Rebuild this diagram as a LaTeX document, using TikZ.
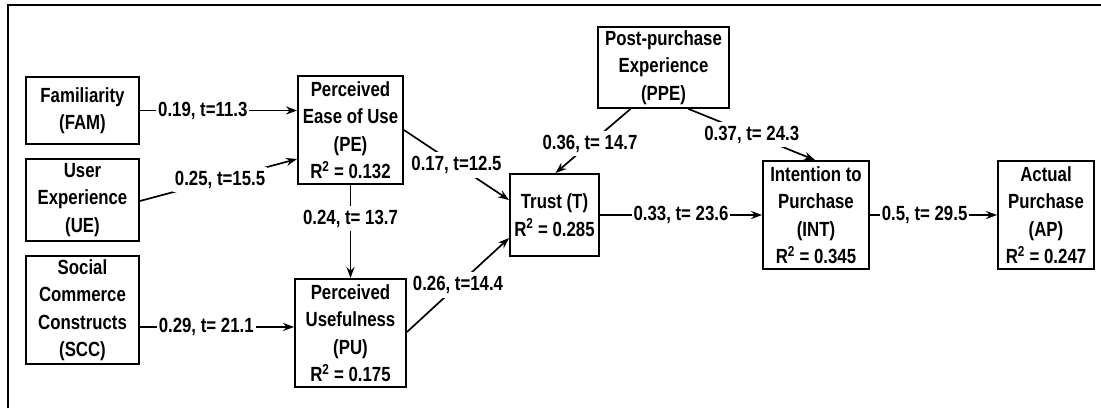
\documentclass[tikz,border=0pt]{standalone}
\usepackage{fontspec}
\setmainfont{Liberation Sans}[FakeStretch=0.82]
\usetikzlibrary{arrows.meta,calc}
\begin{document}
\begin{tikzpicture}[x=1pt,y=-1pt,
  box/.style={draw, line width=1.9pt, inner sep=0pt, align=center,
    font=\fontsize{20.5}{27.5}\selectfont\bfseries},
  lbl/.style={fill=white, inner xsep=2pt, inner ysep=4pt,
    font=\fontsize{20.5}{24}\selectfont\bfseries},
  arr/.style={line width=1.7pt, -{Stealth[length=11pt,width=8pt]}}]
\useasboundingbox (0,0) rectangle (1101,408);
\draw[line width=2.5pt] (8,408) -- (8,5) -- (1101,5);

\node[box, minimum width=113pt, minimum height=67pt] (FAM) at (82.5,110.5) {Familiarity\\(FAM)};
\node[box, minimum width=113pt, minimum height=82pt] (UE) at (82.5,200) {User\\Experience\\(UE)};
\node[box, minimum width=113pt, minimum height=108pt] (SCC) at (82.5,310) {Social\\Commerce\\Constructs\\(SCC)};
\node[box, minimum width=105pt, minimum height=108pt] (PE) at (350.5,130) {Perceived\\Ease of Use\\(PE)\\R\textsuperscript{2} = 0.132};
\node[box, minimum width=111pt, minimum height=108pt] (PU) at (350.5,333) {Perceived\\Usefulness\\(PU)\\R\textsuperscript{2} = 0.175};
\node[box, minimum width=89pt, minimum height=82pt] (Trust) at (554.5,215) {Trust (T)\\R\textsuperscript{2} = 0.285};
\node[box, minimum width=131pt, minimum height=81pt] (PPE) at (663.5,67.5) {Post-purchase\\Experience\\(PPE)};
\node[box, minimum width=106pt, minimum height=108pt] (INT) at (816,215) {Intention to\\Purchase\\(INT)\\R\textsuperscript{2} = 0.345};
\node[box, minimum width=96pt, minimum height=108pt] (AP) at (1046,215) {Actual\\Purchase\\(AP)\\R\textsuperscript{2} = 0.247};

\coordinate (s1) at ($(SCC.east)+(0,17)$);

\draw[arr] (FAM.east) -- node[lbl, pos=0.40]{0.19, t=11.3} (FAM.east -| PE.west);
\draw[arr] ($(UE.east)+(0,1)$) -- node[lbl, pos=0.51]{0.25, t=15.5} ($(PE.west)+(0,29)$);
\draw[arr] (s1) -- node[lbl, pos=0.43]{0.29, t= 21.1} (s1 -| PU.west);
\draw[arr] (PE.south) -- node[lbl, pos=0.36]{0.24, t= 13.7} (PU.north);
\draw[arr] (PE.east) -- node[lbl, pos=0.5]{0.17, t=12.5} ($(Trust.west)+(0,-15)$);
\draw[arr] ($(PU.east)+(0,-1)$) -- node[lbl, pos=0.5]{0.26, t=14.4} ($(Trust.west)+(0,23)$);
\draw[arr] ($(PPE.south)+(-33,0)$) -- node[lbl, pos=0.54]{0.36, t= 14.7} ($(Trust.north)+(1,0)$);
\draw[arr] ($(PPE.south)+(25,0)$) -- node[lbl, pos=0.5]{0.37, t= 24.3} ($(INT.north)+(-1,0)$);
\draw[arr] (Trust.east) -- node[lbl, pos=0.5]{0.33, t= 23.6} (Trust.east -| INT.west);
\draw[arr] (INT.east) -- node[lbl, pos=0.43]{0.5, t= 29.5} (INT.east -| AP.west);
\end{tikzpicture}
\end{document}
